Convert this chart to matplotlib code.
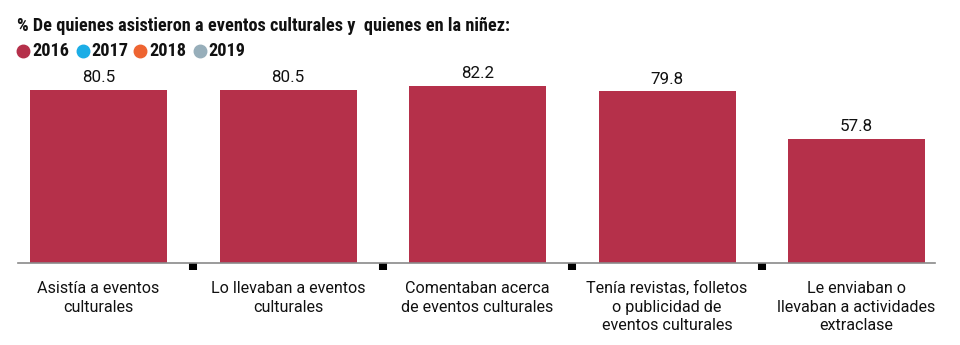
import matplotlib
matplotlib.use("Agg")
import matplotlib.pyplot as plt
from matplotlib import font_manager as fm

categories = ["Asistía a eventos\nculturales",
              "Lo llevaban a eventos\nculturales",
              "Comentaban acerca\nde eventos culturales",
              "Tenía revistas, folletos\no publicidad de\neventos culturales",
              "Le enviaban o\nllevaban a actividades\nextraclase"]
values_2016 = [80.5, 80.5, 82.2, 79.8, 57.8]
years = ["2016", "2017", "2018", "2019"]
year_colors = ["#B5304A", "#1BADE6", "#EE6431", "#97AEBA"]
title = "% De quienes asistieron a eventos culturales y  quienes en la niñez:"

available = set(f.name for f in fm.fontManager.ttflist)


def pick(cands):
    for c in cands:
        if c in available:
            return c
    return "DejaVu Sans"


TITLE_FONT = pick(["Roboto Condensed", "Barlow Semi Condensed", "Archivo Narrow",
                   "Asap Condensed", "Liberation Sans Narrow", "Roboto"])
BODY_FONT = pick(["Roboto", "Lato", "Liberation Sans"])

W, H = 960, 345
fig = plt.figure(figsize=(9.6, 3.45), dpi=100)
renderer = fig.canvas.get_renderer()


def fit_width(txt, target_px):
    w = txt.get_window_extent(renderer=renderer).width
    if w > 0:
        txt.set_fontsize(txt.get_fontsize() * target_px / w)


ax = fig.add_axes([18 / W, 1 - 263 / H, (935 - 18) / W, (263 - 70) / H])

x = list(range(len(categories)))
ax.bar(x, values_2016, width=0.723, color=year_colors[0], zorder=2)
vlabels = []
for xi, v in zip(x, values_2016):
    t = ax.annotate(f"{v:.1f}", xy=(xi, v), xytext=(0, 3.5),
                    textcoords="offset points", ha="center", va="bottom",
                    fontsize=13, color="#111111", family=BODY_FONT)
    vlabels.append(t)

ax.set_xlim(-0.425, 4.414)
ax.set_ylim(0, 89.8)
for s in ["top", "right", "left"]:
    ax.spines[s].set_visible(False)
ax.spines["bottom"].set_color("#8a8a8a")
ax.spines["bottom"].set_linewidth(1.2)
ax.set_yticks([])
ax.set_xticks([i + 0.5 for i in x[:-1]])
ax.set_xticklabels([])
ax.tick_params(axis="x", direction="out", length=5, width=5.8, color="#000000")

probe = fig.text(0, 0, "80.5", fontsize=13, family=BODY_FONT)
fit_width(probe, 33)
vsize = probe.get_fontsize()
probe.remove()
for t in vlabels:
    t.set_fontsize(vsize)

probe = fig.text(0, 0, "Asistía a eventos", fontsize=12, family=BODY_FONT)
fit_width(probe, 122)
csize = probe.get_fontsize()
probe.remove()

for xi, lab in zip(x, categories):
    ax.annotate(lab, xy=(xi, 0), xycoords=("data", "axes fraction"),
                xytext=(0, -13), textcoords="offset points",
                ha="center", va="top", fontsize=csize, linespacing=1.3,
                color="#111111", family=BODY_FONT)

tt = fig.text(17 / W, 1 - 26 / H, title, ha="left", va="center", fontsize=14.5,
              fontweight="bold", family=TITLE_FONT, color="#111111")
fit_width(tt, 493)
tsize = tt.get_fontsize()

circle_x = [22.7, 83, 140, 199.5]
text_x = [32.5, 91.5, 149.5, 208]
ly = 1 - 51 / H
for cx, tx, c, yr in zip(circle_x, text_x, year_colors, years):
    fig.add_artist(plt.Line2D([cx / W], [ly], marker="o", markersize=9.0,
                              markerfacecolor=c, markeredgecolor=c,
                              linestyle="", transform=fig.transFigure))
    yt = fig.text(tx / W, ly, yr, ha="left", va="center", fontsize=tsize,
                  fontweight="bold", family=TITLE_FONT, color="#111111")
    fit_width(yt, 37)

fig.savefig("out.png", dpi=100)
